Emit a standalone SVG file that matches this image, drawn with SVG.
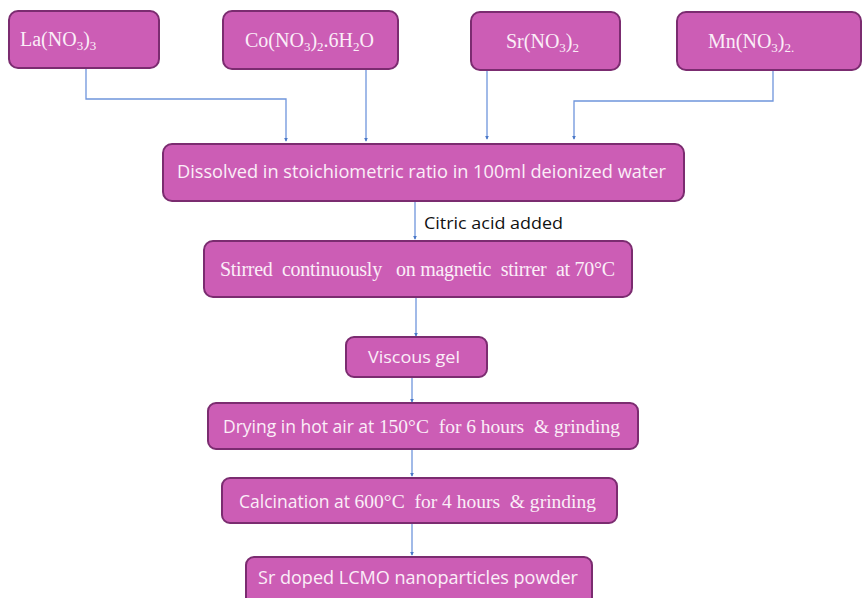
<svg xmlns="http://www.w3.org/2000/svg" width="864" height="598" viewBox="0 0 864 598">
<defs>
<marker id="ah" viewBox="0 0 6 6" refX="5" refY="3" markerWidth="4" markerHeight="4" orient="auto" markerUnits="userSpaceOnUse">
<path d="M0,0 L6,3 L0,6 z" fill="#4a78c8"/>
</marker>
<style>
.box{fill:#cc5db5;stroke:#7b2c70;stroke-width:2}
.ser{font-family:"Liberation Serif","Times New Roman",serif;fill:#fbeef8}
.san{font-family:"Open Sans","Noto Sans",sans-serif;fill:#fbeef8}
.con{fill:none;stroke:#6f95dc;stroke-width:1.3;marker-end:url(#ah)}
</style>
</defs>
<rect width="864" height="598" fill="#ffffff"/>
<g id="connectors">
<path class="con" d="M86,68 V99 H286 V141"/>
<path class="con" d="M366,69 V141"/>
<path class="con" d="M487,70 V139"/>
<path class="con" d="M773,70 V101 H574 V139"/>
<path class="con" d="M415,201 V239"/>
<path class="con" d="M416,297 V336"/>
<path class="con" d="M412,377 V402"/>
<path class="con" d="M412,449 V476"/>
<path class="con" d="M412,523 V555"/>
</g>
<g id="la">
<rect class="box" x="9" y="11" width="150" height="57" rx="9"/>
<text class="ser" x="20" y="46" font-size="20">La(NO<tspan font-size="13" dy="4">3</tspan><tspan dy="-4">)</tspan><tspan font-size="13" dy="4">3</tspan></text>
</g>
<g id="co">
<rect class="box" x="223" y="11" width="175" height="58" rx="9"/>
<text class="ser" x="245" y="47" font-size="20">Co(NO<tspan font-size="13" dy="4">3</tspan><tspan dy="-4">)</tspan><tspan font-size="13" dy="4">2</tspan><tspan dy="-4">.6H</tspan><tspan font-size="13" dy="4">2</tspan><tspan dy="-4">O</tspan></text>
</g>
<g id="sr">
<rect class="box" x="471" y="12" width="149" height="58" rx="9"/>
<text class="ser" x="506" y="48" font-size="20">Sr(NO<tspan font-size="13" dy="4">3</tspan><tspan dy="-4">)</tspan><tspan font-size="13" dy="4">2</tspan></text>
</g>
<g id="mn">
<rect class="box" x="677" y="12" width="184" height="58" rx="9"/>
<text class="ser" x="708" y="48" font-size="20">Mn(NO<tspan font-size="13" dy="4">3</tspan><tspan dy="-4">)</tspan><tspan font-size="13" dy="4">2.</tspan></text>
</g>
<g id="dissolved">
<rect class="box" x="163" y="144" width="521" height="57" rx="9"/>
<text class="san" x="177" y="178" font-size="18" textLength="489" lengthAdjust="spacingAndGlyphs">Dissolved in stoichiometric ratio in 100ml  deionized water</text>
</g>
<text x="424" y="229" font-family="'Open Sans','Noto Sans',sans-serif" font-size="16" fill="#111111" textLength="139" lengthAdjust="spacingAndGlyphs">Citric acid added</text>
<g id="stirred">
<rect class="box" x="204" y="241" width="428" height="56" rx="9"/>
<text class="ser" x="220" y="276" font-size="20" textLength="395" lengthAdjust="spacing" xml:space="preserve">Stirred  continuously   on magnetic  stirrer  at 70°C</text>
</g>
<g id="viscous">
<rect class="box" x="346" y="337" width="141" height="40" rx="8"/>
<text class="san" x="368" y="363" font-size="17" textLength="92" lengthAdjust="spacingAndGlyphs">Viscous gel</text>
</g>
<g id="drying">
<rect class="box" x="208" y="403" width="430" height="46" rx="8"/>
<text x="223" y="433" font-size="19.5" textLength="397" lengthAdjust="spacing" xml:space="preserve"><tspan class="san" font-size="17.5">Drying in hot air at </tspan><tspan class="ser">150°C  for 6 hours  &amp; grinding</tspan></text>
</g>
<g id="calcination">
<rect class="box" x="222" y="478" width="395" height="45" rx="8"/>
<text x="239" y="508" font-size="19.5" textLength="357" lengthAdjust="spacing" xml:space="preserve"><tspan class="san" font-size="17.5">Calcination at </tspan><tspan class="ser">600°C  for 4 hours  &amp; grinding</tspan></text>
</g>
<g id="product">
<rect class="box" x="246" y="557" width="346" height="50" rx="8"/>
<text class="san" x="258" y="584" font-size="18" textLength="320" lengthAdjust="spacingAndGlyphs">Sr doped LCMO nanoparticles powder</text>
</g>
</svg>
